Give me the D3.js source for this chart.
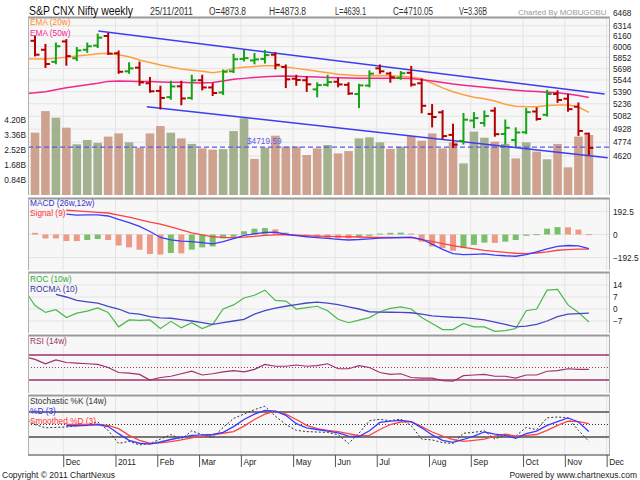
<!DOCTYPE html>
<html><head><meta charset="utf-8">
<script src="https://cdn.jsdelivr.net/npm/d3@7"></script>
<style>
body{margin:0;background:#fff}
svg{display:block}
text{font-family:"Liberation Sans",Arial,sans-serif}
</style>
</head><body>
<svg id="c" width="640" height="480"></svg>
<script>
// ---------------- DATA ----------------
const dates = ["2010-11-12","2010-11-19","2010-11-26","2010-12-03","2010-12-10","2010-12-17","2010-12-24","2010-12-31","2011-01-07","2011-01-14","2011-01-21","2011-01-28","2011-02-04","2011-02-11","2011-02-18","2011-02-25","2011-03-04","2011-03-11","2011-03-18","2011-03-25","2011-04-01","2011-04-08","2011-04-15","2011-04-21","2011-04-29","2011-05-06","2011-05-13","2011-05-20","2011-05-27","2011-06-03","2011-06-10","2011-06-17","2011-06-24","2011-07-01","2011-07-08","2011-07-15","2011-07-22","2011-07-29","2011-08-05","2011-08-12","2011-08-19","2011-08-26","2011-09-02","2011-09-09","2011-09-16","2011-09-23","2011-09-30","2011-10-07","2011-10-14","2011-10-21","2011-10-28","2011-11-04","2011-11-11","2011-11-18","2011-11-25"];
const openP  = [6270,6090,5960,5790,6080,5840,5960,6020,6160,5910, 5660,5710,5500,5400,5320,5460,5310,5540,5445,5380, 5660,5830,5810,5830,5890,5720,5560,5540,5420,5480, 5520,5480,5360,5470,5700,5630,5570,5640,5500,5110, 5130,4860,4790,5030,5000,5150,4870,4800,4890,5140, 5100,5360,5300,5200,4873.8];
const highP  = [6338,6150,6030,6050,6100,5985,6050,6180,6190,5935, 5770,5780,5570,5455,5520,5520,5600,5600,5490,5670, 5890,5944,5900,5944,5910,5740,5600,5580,5500,5600, 5560,5500,5480,5660,5740,5640,5650,5720,5550,5220, 5145,4980,5110,5120,5140,5180,5030,4936,5170,5180, 5400,5395,5350,5240,4873.8];
const lowP   = [6040,5880,5720,5770,5750,5815,5930,6000,5900,5640, 5640,5480,5390,5177,5300,5230,5300,5420,5348,5360, 5650,5810,5770,5780,5700,5450,5480,5400,5330,5470, 5460,5360,5195,5460,5640,5520,5560,5470,5130,4960, 4820,4720,4760,4950,4970,4850,4760,4730,4880,5040, 5090,5260,5150,4860,4639.1];
const closeP = [6071,5890,5760,6010,5870,5950,6010,6135,5905,5654, 5700,5512,5396,5310,5458,5303,5538,5445,5373,5654, 5826,5842,5824,5884,5749,5552,5544,5486,5476,5516, 5485,5367,5472,5628,5660,5580,5634,5483,5211,5073, 4846,4747,5040,5059,5084,4868,4943,4888,5132,5049, 5360,5284,5169,4906,4710.05];
const volumeB = [5.04,3.49,4.70,4.33,3.77,2.84,3.08,2.92,3.27,3.45, 2.95,2.65,3.45,3.86,3.49,3.17,2.86,2.61,2.54,2.57, 3.58,4.29,2.02,2.65,3.32,2.71,2.71,2.24,2.61,2.80, 2.33,2.46,3.17,3.23,2.95,2.58,2.71,3.30,3.04,3.45, 2.61,2.95,1.77,3.55,3.21,2.99,2.86,2.05,2.95,2.43, 2.00,2.86,1.55,3.27,3.36];
const ema20 = [5835,5830,5830,5840,5855,5870,5885,5905,5910,5890, 5860,5816,5780,5745,5720,5690,5675,5660,5640,5660, 5700,5715,5725,5735,5737,5720,5700,5680,5660,5640, 5620,5610,5600,5600,5605,5600,5595,5585,5560,5500, 5440,5390,5350,5320,5300,5270,5230,5205,5200,5200, 5215,5222,5220,5195,5130];
const ema50 = [5365,5375,5390,5415,5440,5460,5480,5500,5525,5530, 5528,5525,5522,5518,5515,5512,5508,5505,5510,5530, 5552,5565,5578,5588,5595,5597,5592,5588,5583,5578, 5574,5570,5567,5565,5566,5566,5565,5562,5548,5530, 5510,5490,5475,5460,5447,5435,5422,5410,5400,5392, 5383,5375,5360,5340,5315];
const channelUpper = [[7.06,6234],[55.5,5360]];
const channelLower = [[11.7,5200],[55.8,4601]];
const lastPrice = 4719.59;

const macdLine = [null,null,null,null,171,163,164,165,155,126, 100,68,25,-25,-45,-56,-60,-68,-79,-60, -35,-8,5,18,20,2,-10,-19,-26,-33, -40,-46,-42,-36,-31,-28,-25,-22,-40,-80, -125,-160,-168,-166,-163,-172,-178,-182,-168,-145, -120,-100,-92,-95,-118];
const signalLine = [null,null,null,null,203,198,192,186,180,162, 145,125,104,86,64,38,14,-3,-19,-24, -27,-22,-15,-8,-3,0,-5,-10,-13,-15, -17,-19,-21,-23,-24,-25,-26,-27,-42,-58, -76,-93,-108,-120,-132,-142,-150,-157,-160,-155, -145,-132,-126,-123,-122];
const macdHist = [20,14,-33,-33,-54,-55,-46,-38,-46,-92, -108,-127,-163,-168,-155,-158,-127,-108,-100,-33, -19,27,49,54,43,16,-11,-19,-24,-30, -33,-33,-22,-11,8,14,16,8,-60,-100, -114,-136,-114,-87,-68,-70,-60,-46,-11,3, 49,62,60,41,3];

const roc = [11,2,-2,-0.4,-5,-2.4,-1.2,0.6,-2,-10.4, -6.4,-6.6,-6.4,-11.4,-7.2,-11,-8,-11.4,-9,0, 2.4,6.4,8,11,5,4.6,0,0.8,1.6,-1, -6,-8,-6.5,-5,-1.6,0.4,1.2,0,-5,-8.5, -12,-12,-8.4,-10.4,-10.4,-13,-12.6,-11.4,-1,0, 11,11.4,2.4,-2,-7.6];
const rocma = [null,null,null,8.5,7,5,4.2,3.4,1.5,0, -2.4,-3,-4.5,-5.2,-5.4,-6.2,-7,-8,-9,-8, -7,-6,-3,-1,0.5,1.6,2.5,3.5,4,3.4, 2.5,1.2,0,-1.6,-1.8,-1.9,-2,-2.2,-3,-4, -4.4,-4.8,-5,-5.6,-6.4,-7.6,-9,-10.4,-10,-9, -7,-4.5,-3,-2.7,-2.4];

const rsi = [67,63,56,62,58,57,56,55,50,42, 41,39,30,34,36,40,44,38,40,43, 45,43,47,55,52,52,54,52,53,56, 48,48,53,50,42,39,40,34,33,33, 29,28,37,38,39,36,36,33,38,38, 44,45,48,47,47];

const stochK = [65,50,42,43,44,47,50,56,36,4.5, 9.4,1,4.5,15,25.6,15,34.8,25.6,18.6,43, 64.5,75,85.6,94,70,50,36,33,32,31, 25.6,4.5,29,59,62.4,59,63,47,15,13, 6.6,4.5,29,31.3,34.8,15,25.6,22,43,37.6, 66,68,66,36,9.4];
const stochD = [null,null,null,null,47,47,48,50,45,28, 12,5,3,8,14,19,24,25,26,31, 45,62,75,84,82,72,52,42,38,34, 30,22,21,35,55,58,60,57,42,25, 12,7,14,22,32,27,24,17,28,34, 48,57,66,56,33];
const stochSD = [null,null,null,null,50,50,50,50,48,40, 24,12,5,6,9,13,18,22,25,29, 33,46,62,75,82,75,62,48,40,36, 33,28,23,24,38,50,56,57,45,32, 22,14,9.4,12,15,22,27,22,24,26, 36,48,58,57,52];

const priceTicks = [6468,6314,6160,6006,5852,5698,5544,5390,5236,5082,4928,4774,4620];
const volumeTicks = [0.84,1.68,2.52,3.36,4.20];
const macdTicks = [192.5,0,-192.5];
const rocTicks = [14,7,0,-7];
const monthLabels = ["Dec","2011","Feb","Mar","Apr","May","Jun","Jul","Aug","Sep","Oct","Nov","Dec"];
const monthTickIdx = [3,8,12,16,20,25,29,33,38,42,47,51,55];

// ---------------- LAYOUT ----------------
const svg = d3.select('#c');
const defs = svg.append('defs');
const PL = 28, PR = 610;
const P = {price:[17,195], macd:[198,270], roc:[272,333], rsi:[335,393], stoch:[395,455]};
const idx = d3.range(dates.length);
const x = d3.scaleLinear().domain([0.33, 56.02]).range([PL, PR]);
const xTick = x.copy().domain([0.33-0.7, 56.02-0.7]);

const yP = d3.scaleLog().domain([4620, 6160]).range([156, 36]);
const yV = d3.scaleLinear().domain([0, 4.2]).range([195, 120]);
const yM = d3.scaleLinear().domain([-192.5, 192.5]).range([257.5, 211.5]);
const yR = d3.scaleLinear().domain([-7, 14]).range([321, 285]);
const yRSI = d3.scaleLinear().domain([30, 70]).range([380, 355]);
const yS = d3.scaleLinear().domain([20, 80]).range([437, 412]);

const FS = 8.3;
const gridCol = '#e4e4e4';

function panel(name, y0, y1){
  svg.append('rect').attr('x',PL).attr('y',y0).attr('width',PR-PL).attr('height',y1-y0).attr('fill','#f7f7f7');
  defs.append('clipPath').attr('id','clip-'+name).append('rect')
    .attr('x',PL).attr('y',y0).attr('width',PR-PL).attr('height',y1-y0);
  const gg = svg.append('g');
  gg.selectAll('line').data(monthTickIdx).join('line')
    .attr('x1',d=>xTick(d)).attr('x2',d=>xTick(d)).attr('y1',y0).attr('y2',y1)
    .attr('stroke',gridCol).attr('stroke-width',1);
  return svg.append('g').attr('clip-path',`url(#clip-${name})`);
}
function hgrid(g, vals, sc){
  g.append('g').selectAll('line').data(vals).join('line')
    .attr('x1',PL).attr('x2',PR).attr('y1',d=>sc(d)).attr('y2',d=>sc(d))
    .attr('stroke',gridCol).attr('stroke-width',1);
}
function borders(y0,y1){
  svg.append('line').attr('x1',PL).attr('x2',PR).attr('y1',y0+0.5).attr('y2',y0+0.5).attr('stroke','#9a9a9a').attr('stroke-width',2);
  svg.append('line').attr('x1',PL+0.5).attr('x2',PL+0.5).attr('y1',y0).attr('y2',y1).attr('stroke','#b0b0b0');
  svg.append('line').attr('x1',PR-0.5).attr('x2',PR-0.5).attr('y1',y0).attr('y2',y1).attr('stroke','#b0b0b0');
}
function lineOf(arr, sc, color, w, dash){
  const ln = d3.line().defined(d=>d!=null).x((d,i)=>x(i)).y(d=>sc(d));
  return {draw:(g)=>g.append('path').datum(arr).attr('d',ln).attr('fill','none')
    .attr('stroke',color).attr('stroke-width',w).attr('stroke-dasharray',dash||null)};
}
function label(txt, xx, yy, col, size){
  svg.append('text').attr('x',xx).attr('y',yy).attr('fill',col).attr('font-size',size||FS).text(txt);
}

// ---------------- PRICE PANEL ----------------
const gP = panel('price', ...P.price);
hgrid(gP, priceTicks, yP);
// volume
gP.append('g').selectAll('rect').data(idx).join('rect')
  .attr('x',k=>x(k)-4.3).attr('width',8.6)
  .attr('y',k=>yV(volumeB[k])).attr('height',k=>yV(0)-yV(volumeB[k]))
  .attr('fill',k=> (k>0 && closeP[k]>=closeP[k-1]) ? '#a4b18f' : '#cfa28f');
// price line
gP.append('line').attr('x1',PL).attr('x2',PR).attr('y1',yP(lastPrice)).attr('y2',yP(lastPrice))
  .attr('stroke','#5a5af0').attr('stroke-width',1.3).attr('stroke-dasharray','5,3');
// EMAs
lineOf(ema20, yP, '#ffa040', 1.5).draw(gP);
lineOf(ema50, yP, '#f0288c', 1.5).draw(gP);
// channel
[channelUpper, channelLower].forEach(c=>{
  gP.append('line').attr('x1',x(c[0][0])).attr('y1',yP(c[0][1])).attr('x2',x(c[1][0])).attr('y2',yP(c[1][1]))
    .attr('stroke','#3c3cf0').attr('stroke-width',1.5);
});
// OHLC bars
const bars = gP.append('g').selectAll('g').data(idx).join('g')
  .attr('stroke',k=> closeP[k]>=openP[k] ? '#16a316' : '#b40000').attr('stroke-width',2);
bars.append('line').attr('x1',k=>x(k)).attr('x2',k=>x(k)).attr('y1',k=>yP(highP[k])-1).attr('y2',k=>yP(lowP[k])+1);
bars.append('line').attr('x1',k=>x(k)-4.5).attr('x2',k=>x(k)).attr('y1',k=>yP(openP[k])).attr('y2',k=>yP(openP[k]));
bars.append('line').attr('x1',k=>x(k)).attr('x2',k=>x(k)+4.5).attr('y1',k=>yP(closeP[k])).attr('y2',k=>yP(closeP[k]));
borders(...P.price);
label('EMA (20w)', 30, 25, '#ff8c1a');
label('EMA (50w)', 30, 36, '#f0288c');
svg.append('text').attr('x',247).attr('y',yP(lastPrice)-3).attr('fill','#6060e0').attr('font-size',FS).text('$'+lastPrice);

// price axis (right)
const axP = svg.append('g').attr('transform',`translate(${PR},0)`)
  .call(d3.axisRight(yP).tickValues(priceTicks).tickSize(0).tickPadding(3).tickFormat(d3.format('d')));
axP.selectAll('.tick text').filter(d=>d===priceTicks[0]).attr('dy','-0.05em');
// volume axis (left)
const axV = svg.append('g').attr('transform',`translate(${PL},0)`)
  .call(d3.axisLeft(yV).tickValues(volumeTicks).tickSize(0).tickPadding(2).tickFormat(d=>d.toFixed(2)+'B'));

// ---------------- MACD ----------------
const gM = panel('macd', ...P.macd);
hgrid(gM, macdTicks, yM);
gM.append('g').selectAll('rect').data(idx).join('rect')
  .attr('x',k=>x(k)-3).attr('width',6)
  .attr('y',k=>Math.min(yM(macdHist[k]),yM(0))).attr('height',k=>Math.max(1,Math.abs(yM(macdHist[k])-yM(0))))
  .attr('fill',k=> (k>0 && macdHist[k]>macdHist[k-1]) ? '#7cbf6a' : '#ec9a85');
lineOf(signalLine, yM, '#ff4040', 1.3).draw(gM);
lineOf(macdLine, yM, '#3c3cff', 1.3).draw(gM);
borders(...P.macd);
label('MACD (26w,12w)', 30, 206, '#3333cc');
label('Signal (9)', 30, 216, '#ff3333');
svg.append('g').attr('transform',`translate(${PR},0)`)
  .call(d3.axisRight(yM).tickValues(macdTicks).tickSize(0).tickPadding(3).tickFormat(d=>d===0?'0':d3.format('.1f')(d)));

// ---------------- ROC ----------------
const gR = panel('roc', ...P.roc);
hgrid(gR, rocTicks, yR);
lineOf(roc, yR, '#4cb84c', 1.2).draw(gR);
lineOf(rocma, yR, '#4646c8', 1.3).draw(gR);
borders(...P.roc);
label('ROC (10w)', 30, 282, '#33aa33');
label('ROCMA (10)', 30, 292, '#3333aa');
svg.append('g').attr('transform',`translate(${PR},0)`)
  .call(d3.axisRight(yR).tickValues(rocTicks).tickSize(0).tickPadding(3).tickFormat(d3.format('d')));

// ---------------- RSI ----------------
const gS1 = panel('rsi', ...P.rsi);
[70,30].forEach(v=>gS1.append('line').attr('x1',PL).attr('x2',PR).attr('y1',yRSI(v)).attr('y2',yRSI(v)).attr('stroke','#a0306e').attr('stroke-width',1.3));
gS1.append('line').attr('x1',PL).attr('x2',PR).attr('y1',yRSI(50)).attr('y2',yRSI(50)).attr('stroke','#a0306e').attr('stroke-width',1).attr('stroke-dasharray','1,2');
lineOf(rsi, yRSI, '#a0306e', 1.2).draw(gS1);
borders(...P.rsi);
label('RSI (14w)', 30, 344, '#993366');

// ---------------- STOCHASTIC ----------------
const gS2 = panel('stoch', ...P.stoch);
[80,20].forEach(v=>gS2.append('line').attr('x1',PL).attr('x2',PR).attr('y1',yS(v)).attr('y2',yS(v)).attr('stroke','#777').attr('stroke-width',2));
gS2.append('line').attr('x1',PL).attr('x2',PR).attr('y1',yS(50)).attr('y2',yS(50)).attr('stroke','#333').attr('stroke-width',1).attr('stroke-dasharray','1,2');
lineOf(stochK, yS, '#333', 1, '2,2').draw(gS2);
lineOf(stochSD, yS, '#ff4444', 1.3).draw(gS2);
lineOf(stochD, yS, '#3c3cff', 1.3).draw(gS2);
borders(...P.stoch);
svg.append('line').attr('x1',PL).attr('x2',PR).attr('y1',P.stoch[1]).attr('y2',P.stoch[1]).attr('stroke','#9a9a9a').attr('stroke-width',2);
label('Stochastic %K (14w)', 30, 404, '#333');
label('%D (3)', 30, 414, '#3333ff');
label('Smoothed %D (3)', 30, 424, '#ff3333');

// month axis
const axX = svg.append('g').attr('transform',`translate(0,${P.stoch[1]})`)
  .call(d3.axisBottom(xTick).tickValues(monthTickIdx).tickSize(12).tickFormat((d,i)=>monthLabels[i]));
axX.select('.domain').remove();
axX.selectAll('line').attr('stroke','#555');
axX.selectAll('text').attr('text-anchor','start').attr('x',2).attr('y',4).attr('dy','0.71em');

// style axes
svg.selectAll('.domain').remove();
svg.selectAll('.tick text').attr('font-size',FS).attr('fill','#222').attr('font-family','"Liberation Sans",Arial,sans-serif');

// ---------------- HEADER / FOOTER ----------------
function htext(t, xx, w, size, col){
  svg.append('text').attr('x',xx).attr('y',15).attr('font-size',size).attr('fill',col)
    .attr('textLength',w).attr('lengthAdjust','spacingAndGlyphs').text(t);
}
htext('S&P CNX Nifty weekly', 29, 104, 12.5, '#111');
htext('25/11/2011', 150, 43, 10, '#333');
htext('O=4873.8', 209, 37, 10, '#333');
htext('H=4873.8', 269, 37, 10, '#333');
htext('L=4639.1', 335, 31, 10, '#333');
htext('C=4710.05', 393, 40, 10, '#333');
htext('V=3.36B', 459, 28, 10, '#333');
svg.append('text').attr('x',518).attr('y',15).attr('font-size',7.9).attr('fill','#999').text('Charted By MOBUGOBU');
svg.append('text').attr('x',2).attr('y',478).attr('font-size',8.5).attr('fill','#222').text('Copyright © 2011 ChartNexus');
svg.append('text').attr('x',637).attr('y',478).attr('font-size',8.5).attr('fill','#222').attr('text-anchor','end').text('Powered by www.chartnexus.com');
</script>
</body></html>
